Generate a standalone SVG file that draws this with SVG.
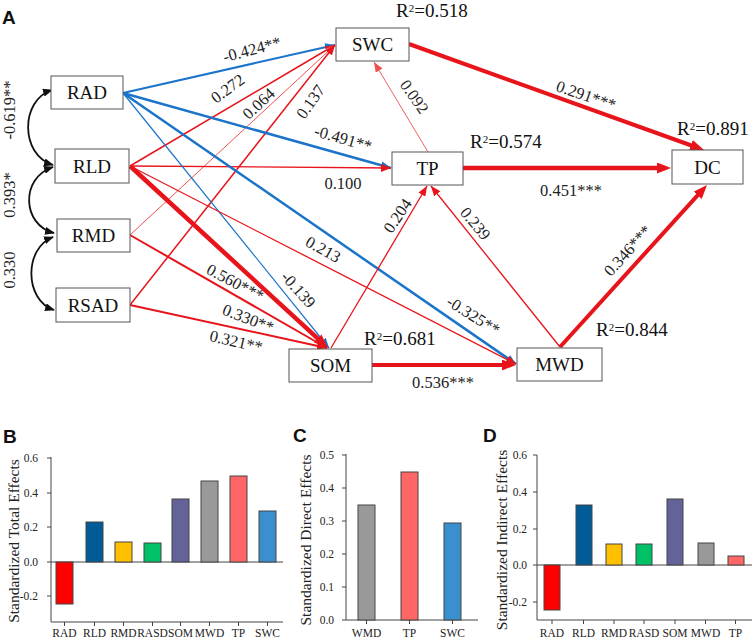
<svg xmlns="http://www.w3.org/2000/svg" width="754" height="640" viewBox="0 0 754 640">
<style>
.bx{fill:#fff;stroke:#555;stroke-width:1}
.nt{font-family:"Liberation Serif",serif;font-size:19px;fill:#111;text-anchor:middle}
.el{font-family:"Liberation Serif",serif;font-size:16.5px;fill:#222;text-anchor:middle}
.r2{font-family:"Liberation Serif",serif;font-size:19px;fill:#111}
.pl{font-family:"Liberation Sans",sans-serif;font-size:19px;font-weight:bold;fill:#111}
.r{stroke:#e8141b;fill:none}
.lr{stroke:#f05050;fill:none}
.b{stroke:#1b74c9;fill:none}
.k{stroke:#111;fill:none;stroke-width:1.8}
.ax{stroke:#444;stroke-width:1;fill:none}
.tk{font-family:"Liberation Serif",serif;font-size:11.5px;fill:#222;text-anchor:end}
.xl{font-family:"Liberation Serif",serif;font-size:11.5px;fill:#222;text-anchor:middle}
.yt{font-family:"Liberation Serif",serif;font-size:15.5px;fill:#222;text-anchor:middle}
.bar{stroke:#444;stroke-width:1}
</style>
<defs>
<marker id="mr" markerUnits="userSpaceOnUse" markerWidth="10" markerHeight="8" refX="10" refY="4" orient="auto"><path d="M0,0 L10,4 L0,8 z" fill="#e8141b"/></marker>
<marker id="mlr" markerUnits="userSpaceOnUse" markerWidth="10" markerHeight="8" refX="10" refY="4" orient="auto"><path d="M0,0 L10,4 L0,8 z" fill="#f05050"/></marker>
<marker id="mt" markerUnits="userSpaceOnUse" markerWidth="14" markerHeight="11" refX="8" refY="5.5" orient="auto"><path d="M0,0 L14,5.5 L0,11 z" fill="#e8141b"/></marker>
<marker id="mb" markerUnits="userSpaceOnUse" markerWidth="10" markerHeight="8" refX="10" refY="4" orient="auto"><path d="M0,0 L10,4 L0,8 z" fill="#1b74c9"/></marker>
<marker id="mk" markerUnits="userSpaceOnUse" markerWidth="10" markerHeight="8" refX="9" refY="4" orient="auto-start-reverse"><path d="M0,0 L10,4 L0,8 z" fill="#111"/></marker>
</defs>

<text class="pl" x="2" y="24">A</text>

<g id="connectors">
<path class="b" stroke-width="2" d="M123,93 L335,45" marker-end="url(#mb)"/>
<path class="r" stroke-width="1.5" d="M130,166 L335,45" marker-end="url(#mr)"/>
<path class="lr" stroke-width="1" d="M130,235 L335,45" marker-end="url(#mlr)"/>
<path class="r" stroke-width="1.5" d="M130,305 L335,45" marker-end="url(#mr)"/>
<path class="b" stroke-width="2.5" d="M123,93 L391,168" marker-end="url(#mb)"/>
<path class="r" stroke-width="1.3" d="M130,166 L391,168" marker-end="url(#mr)"/>
<path class="b" stroke-width="1.2" d="M123,93 L329,348" marker-end="url(#mb)"/>
<path class="b" stroke-width="2.5" d="M123,93 L516,364" marker-end="url(#mb)"/>
<path class="r" stroke-width="4.5" d="M130,166 L323.6,343.9" marker-end="url(#mt)"/>
<path class="r" stroke-width="1.3" d="M130,166 L516,364" marker-end="url(#mr)"/>
<path class="r" stroke-width="2" d="M130,235 L327,348" marker-end="url(#mr)"/>
<path class="r" stroke-width="2" d="M130,305 L327,348" marker-end="url(#mr)"/>
<path class="r" stroke-width="1.3" d="M331,348 L427,186" marker-end="url(#mr)"/>
<path class="r" stroke-width="4" d="M372,365 L510,365" marker-end="url(#mt)"/>
<path class="r" stroke-width="1.3" d="M560,347 L431,186" marker-end="url(#mr)"/>
<path class="r" stroke-width="4" d="M560,347 L703,189.4" marker-end="url(#mt)"/>
<path class="lr" stroke-width="0.9" d="M428,152 L374,62" marker-end="url(#mlr)"/>
<path class="r" stroke-width="4.5" d="M463,168 L665,168" marker-end="url(#mt)"/>
<path class="r" stroke-width="4" d="M409,44 L698.4,148" marker-end="url(#mt)"/>
<path class="k" d="M52,90 C20,100 20,155 53,165" marker-start="url(#mk)" marker-end="url(#mk)"/>
<path class="k" d="M53,167 C20,178 22,225 54,233" marker-start="url(#mk)" marker-end="url(#mk)"/>
<path class="k" d="M53,237 C24,248 24,300 54,310" marker-start="url(#mk)" marker-end="url(#mk)"/>
</g>

<g id="edge-labels">
<text class="el" transform="translate(252,50) rotate(-15)" dy="5">-0.424**</text>
<text class="el" transform="translate(228,89) rotate(-36)" dy="5">0.272</text>
<text class="el" transform="translate(259,104) rotate(-43)" dy="5">0.064</text>
<text class="el" transform="translate(311,102) rotate(-55)" dy="5">0.137</text>
<text class="el" transform="translate(343,139) rotate(16)" dy="5">-0.491**</text>
<text class="el" x="343" y="189">0.100</text>
<text class="el" transform="translate(323,250) rotate(29)" dy="5">0.213</text>
<text class="el" transform="translate(235,283) rotate(28)" dy="5">0.560***</text>
<text class="el" transform="translate(298,290) rotate(48)" dy="5">-0.139</text>
<text class="el" transform="translate(248,319) rotate(21)" dy="5">0.330**</text>
<text class="el" transform="translate(236,342) rotate(13)" dy="5">0.321**</text>
<text class="el" transform="translate(398,216) rotate(-56)" dy="5">0.204</text>
<text class="el" transform="translate(475,224) rotate(50)" dy="5">0.239</text>
<text class="el" transform="translate(473,316) rotate(32)" dy="5">-0.325**</text>
<text class="el" x="443" y="388">0.536***</text>
<text class="el" transform="translate(628,251) rotate(-48)" dy="5">0.346***</text>
<text class="el" transform="translate(414,97) rotate(55)" dy="5">0.092</text>
<text class="el" transform="translate(586,96) rotate(19)" dy="5">0.291***</text>
<text class="el" x="571" y="196">0.451***</text>
<text class="el" transform="translate(10,110) rotate(-90)" dy="5">-0.619**</text>
<text class="el" transform="translate(10,195) rotate(-90)" dy="5">0.393*</text>
<text class="el" transform="translate(10,270) rotate(-90)" dy="5">0.330</text>
</g>

<g id="node-RAD"><rect class="bx" x="51" y="76" width="72" height="33"/><text class="nt" x="87" y="99">RAD</text></g>
<g id="node-RLD"><rect class="bx" x="55" y="149" width="74" height="34"/><text class="nt" x="92" y="172.5">RLD</text></g>
<g id="node-RMD"><rect class="bx" x="57" y="219" width="73" height="33"/><text class="nt" x="93.5" y="242">RMD</text></g>
<g id="node-RSAD"><rect class="bx" x="56" y="288" width="74" height="34"/><text class="nt" x="93" y="311.5">RSAD</text></g>
<g id="node-SOM"><rect class="bx" x="289" y="349" width="83" height="33"/><text class="nt" x="330.5" y="372">SOM</text>
<text class="r2" x="364" y="345">R<tspan font-size="11" dy="-5">2</tspan><tspan dy="5">=0.681</tspan></text></g>
<g id="node-SWC"><rect class="bx" x="336" y="28" width="73" height="33"/><text class="nt" x="372.5" y="51">SWC</text>
<text class="r2" x="396" y="16.5">R<tspan font-size="11" dy="-5">2</tspan><tspan dy="5">=0.518</tspan></text></g>
<g id="node-TP"><rect class="bx" x="392" y="152" width="71" height="33"/><text class="nt" x="427.5" y="175">TP</text>
<text class="r2" x="470" y="148">R<tspan font-size="11" dy="-5">2</tspan><tspan dy="5">=0.574</tspan></text></g>
<g id="node-DC"><rect class="bx" x="672" y="150" width="71" height="34"/><text class="nt" x="707.5" y="173.5">DC</text>
<text class="r2" x="677" y="135">R<tspan font-size="11" dy="-5">2</tspan><tspan dy="5">=0.891</tspan></text></g>
<g id="node-MWD"><rect class="bx" x="517" y="348" width="85" height="33"/><text class="nt" x="559.5" y="371">MWD</text>
<text class="r2" x="596" y="336">R<tspan font-size="11" dy="-5">2</tspan><tspan dy="5">=0.844</tspan></text></g>

<!-- Panel B -->
<g id="panel-B">
<text class="pl" x="3" y="443">B</text>
<text class="yt" transform="translate(14,541) rotate(-90)" dy="5">Standardized Total Effects</text>
<path class="ax" d="M51,457 V622 H283 M51,562 H283 M47,458 H51 M47,493 H51 M47,527 H51 M47,562 H51 M47,596 H51 M64.5,622 v4 M94.5,622 v4 M123.5,622 v4 M152.5,622 v4 M180.5,622 v4 M209.5,622 v4 M238.5,622 v4 M267.5,622 v4"/>
<text class="tk" x="38" y="462">0.6</text>
<text class="tk" x="38" y="497">0.4</text>
<text class="tk" x="38" y="531">0.2</text>
<text class="tk" x="38" y="566">0.0</text>
<text class="tk" x="38" y="600">-0.2</text>
<rect class="bar" x="56" y="562" width="17" height="42" fill="#ff0000"/>
<rect class="bar" x="86" y="522" width="17" height="40" fill="#005b96"/>
<rect class="bar" x="115" y="542" width="17" height="20" fill="#ffc000"/>
<rect class="bar" x="144" y="543" width="17" height="19" fill="#00c165"/>
<rect class="bar" x="172" y="499" width="17" height="63" fill="#636399"/>
<rect class="bar" x="201" y="481" width="17" height="81" fill="#999999"/>
<rect class="bar" x="230" y="476" width="17" height="86" fill="#ff6666"/>
<rect class="bar" x="259" y="511" width="17" height="51" fill="#3b8fcf"/>
<text class="xl" x="64.5" y="637">RAD</text>
<text class="xl" x="94.5" y="637">RLD</text>
<text class="xl" x="123.5" y="637">RMD</text>
<text class="xl" x="152.5" y="637">RASD</text>
<text class="xl" x="180.5" y="637">SOM</text>
<text class="xl" x="209.5" y="637">MWD</text>
<text class="xl" x="238.5" y="637">TP</text>
<text class="xl" x="267.5" y="637">SWC</text>
</g>

<!-- Panel C -->
<g id="panel-C">
<text class="pl" x="293" y="442">C</text>
<text class="yt" transform="translate(306,540) rotate(-90)" dy="5">Standardized Direct Effects</text>
<path class="ax" d="M346,454 V620 H478 M342,455 H346 M342,488 H346 M342,521 H346 M342,554 H346 M342,587 H346 M342,620 H346 M366.5,620 v4 M409.5,620 v4 M452.5,620 v4"/>
<text class="tk" x="334" y="459">0.5</text>
<text class="tk" x="334" y="492">0.4</text>
<text class="tk" x="334" y="525">0.3</text>
<text class="tk" x="334" y="558">0.2</text>
<text class="tk" x="334" y="591">0.1</text>
<text class="tk" x="334" y="624">0.0</text>
<rect class="bar" x="358" y="505" width="17" height="115" fill="#999999"/>
<rect class="bar" x="401" y="472" width="17" height="148" fill="#ff6666"/>
<rect class="bar" x="444" y="523" width="17" height="97" fill="#3b8fcf"/>
<text class="xl" x="366.5" y="637">WMD</text>
<text class="xl" x="409.5" y="637">TP</text>
<text class="xl" x="452.5" y="637">SWC</text>
</g>

<!-- Panel D -->
<g id="panel-D">
<text class="pl" x="483" y="442">D</text>
<text class="yt" transform="translate(502,540) rotate(-90)" dy="5">Standardized Indirect Effects</text>
<path class="ax" d="M537,455 V620 H752 M537,565 H752 M533,455 H537 M533,492 H537 M533,529 H537 M533,565 H537 M533,602 H537 M552,620 v4 M583.5,620 v4 M614,620 v4 M644,620 v4 M675,620 v4 M705.5,620 v4 M735.5,620 v4"/>
<text class="tk" x="527" y="459">0.6</text>
<text class="tk" x="527" y="496">0.4</text>
<text class="tk" x="527" y="533">0.2</text>
<text class="tk" x="527" y="569">0.0</text>
<text class="tk" x="527" y="606">-0.2</text>
<rect class="bar" x="544" y="565" width="16" height="45" fill="#ff0000"/>
<rect class="bar" x="576" y="505" width="16" height="60" fill="#005b96"/>
<rect class="bar" x="606" y="544" width="16" height="21" fill="#ffc000"/>
<rect class="bar" x="636" y="544" width="16" height="21" fill="#00c165"/>
<rect class="bar" x="667" y="499" width="16" height="66" fill="#636399"/>
<rect class="bar" x="698" y="543" width="16" height="22" fill="#999999"/>
<rect class="bar" x="728" y="556" width="16" height="9" fill="#ff6666"/>
<text class="xl" x="552" y="637">RAD</text>
<text class="xl" x="583.5" y="637">RLD</text>
<text class="xl" x="614" y="637">RMD</text>
<text class="xl" x="644" y="637">RASD</text>
<text class="xl" x="675" y="637">SOM</text>
<text class="xl" x="705.5" y="637">MWD</text>
<text class="xl" x="735.5" y="637">TP</text>
</g>
</svg>
